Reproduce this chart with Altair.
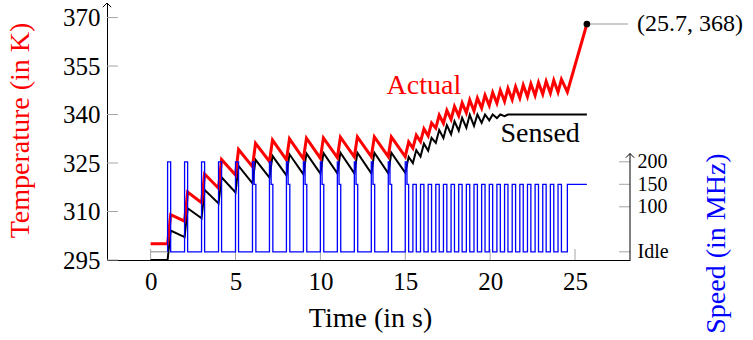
import altair as alt
import pandas as pd

FONT = "Liberation Serif"

# Actual die temperature (K) over time (s)
actual_t = [0.0, 1.0, 1.18, 2.0, 2.18, 3.0, 3.18, 4.0, 4.18, 5.0, 5.18, 6.0, 6.18, 7.0, 7.18,
            8.0, 8.18, 9.0, 9.18, 10.0, 10.18, 11.0, 11.18, 12.0, 12.18, 13.0, 13.18, 14.0, 14.18,
            15.0, 15.2, 15.45, 15.65, 15.9, 16.1, 16.35, 16.55, 16.8, 17.0, 17.25, 17.45, 17.7,
            17.9, 18.15, 18.35, 18.6, 18.8, 19.05, 19.25, 19.5, 19.7, 19.95, 20.15, 20.4, 20.6,
            20.85, 21.05, 21.3, 21.5, 21.75, 21.95, 22.2, 22.4, 22.65, 22.85, 23.1, 23.3, 23.55,
            23.75, 24.0, 24.2, 24.55, 25.7]
actual_k = [300.0, 300.0, 309.0, 307.0, 316.0, 312.7, 321.6, 317.2, 326.1, 321.3, 329.2, 323.9,
            331.1, 325.5, 332.1, 326.0, 332.5, 326.3, 332.7, 326.5, 332.8, 326.7, 333.0, 326.9,
            333.1, 327.0, 333.1, 327.0, 333.1, 327.0, 331.5, 329.6, 333.6, 331.6, 335.6, 333.4,
            337.4, 335.8, 339.8, 337.3, 341.3, 338.5, 342.5, 339.6, 343.6, 340.5, 344.5, 341.1,
            345.1, 342.0, 346.0, 342.8, 346.8, 343.5, 347.5, 344.1, 348.1, 344.6, 348.6, 345.1,
            349.1, 345.5, 349.5, 345.9, 349.9, 346.3, 350.3, 346.6, 350.6, 346.9, 350.9, 347.0,
            368.0]

# Sensor reading (K), saturating at 340
sensed_t = [0.0, 1.0, 1.18, 2.0, 2.18, 3.0, 3.18, 4.0, 4.18, 5.0, 5.18, 6.0, 6.18, 7.0, 7.18,
            8.0, 8.18, 9.0, 9.18, 10.0, 10.18, 11.0, 11.18, 12.0, 12.18, 13.0, 13.18, 14.0, 14.18,
            15.0, 15.2, 15.45, 15.65, 15.9, 16.1, 16.35, 16.55, 16.8, 17.0, 17.25, 17.45, 17.7,
            17.9, 18.15, 18.35, 18.6, 18.8, 19.05, 19.25, 19.5, 19.7, 19.95, 20.15, 20.4, 20.6,
            20.85, 21.05, 21.3, 25.7]
sensed_k = [295.0, 295.0, 304.1, 302.1, 311.0, 307.9, 316.7, 312.5, 320.6, 315.9, 324.1, 318.7,
            326.0, 320.5, 327.2, 321.2, 327.7, 321.5, 328.0, 321.7, 328.1, 321.8, 328.2, 321.8,
            328.2, 321.8, 328.2, 321.8, 328.2, 322.0, 326.9, 325.0, 329.0, 327.0, 331.0, 328.8,
            332.8, 331.2, 335.2, 332.7, 336.7, 333.9, 337.9, 335.0, 339.0, 335.9, 339.9, 336.5,
            340.0, 337.4, 340.0, 338.2, 340.0, 338.9, 340.0, 339.5, 340.0, 340.0, 340.0]

# Clock speed (MHz) at each change point; 0 means idle
speed_t = [1.0, 1.0, 1.18, 2.0, 2.18, 3.0, 3.18, 4.0, 4.18, 5.0, 5.18,
           6.0, 6.1, 6.2, 7.0, 7.1, 7.2, 8.0, 8.1, 8.2, 9.0, 9.1, 9.2, 10.0, 10.1, 10.2,
           11.0, 11.1, 11.2, 12.0, 12.1, 12.2, 13.0, 13.1, 13.2, 14.0, 14.1, 14.2, 15.0, 15.1, 15.2,
           15.45, 15.65, 15.9, 16.1, 16.35, 16.55, 16.8, 17.0, 17.25, 17.45, 17.7, 17.9, 18.15,
           18.35, 18.6, 18.8, 19.05, 19.25, 19.5, 19.7, 19.95, 20.15, 20.4, 20.6, 20.85, 21.05,
           21.3, 21.5, 21.75, 21.95, 22.2, 22.4, 22.65, 22.85, 23.1, 23.3, 23.55, 23.75, 24.0,
           24.2, 24.55, 25.7]
speed_mhz = [0, 200, 0, 200, 0, 200, 0, 200, 0, 200, 0,
             200, 150, 0, 200, 150, 0, 200, 150, 0, 200, 150, 0, 200, 150, 0,
             200, 150, 0, 200, 150, 0, 200, 150, 0, 200, 150, 0, 200, 150, 0,
             150, 0, 150, 0, 150, 0, 150, 0, 150, 0, 150, 0, 150,
             0, 150, 0, 150, 0, 150, 0, 150, 0, 150, 0, 150, 0,
             150, 0, 150, 0, 150, 0, 150, 0, 150, 0, 150, 0, 150,
             0, 150, 150]
# Idle period before the workload starts
pre_t = [0.0, 1.0]
pre_mhz = [0, 0]

temp_ticks = [295, 310, 325, 340, 355, 370]
time_ticks = [0, 5, 10, 15, 20, 25]
speed_ticks = [0, 100, 150, 200]

end_point = {"t": 25.7, "k": 368.0, "label": "(25.7, 368)"}

W, H = 523, 257
X_DOM = [-2.57, 28.24]
T_DOM = [295.0, 374.5]
S_DOM = [-18.2, 552.9]
S_AXIS_TOP = 218.4
TICK_GRAY = "#a6a6a6"

x_scale = alt.Scale(domain=X_DOM, nice=False, zero=False)
t_scale = alt.Scale(domain=T_DOM, nice=False, zero=False)
s_scale = alt.Scale(domain=S_DOM, nice=False, zero=False)

x_axis = alt.Axis(values=time_ticks, title="Time (in s)", grid=False, ticks=False,
                  domainColor="black", domainWidth=1, labelFont=FONT, labelFontSize=25,
                  labelColor="black", labelPadding=9, labelFlush=False, labelOverlap=False,
                  titleFont=FONT, titleFontSize=28, titleFontWeight="normal", titleColor="black",
                  titleX=263, titleY=58, titleBaseline="middle", titleAlign="center")
t_axis = alt.Axis(values=temp_ticks, title="Temperature (in K)", grid=False, ticks=False,
                  domainColor="black", domainWidth=1, labelFont=FONT, labelFontSize=25,
                  labelColor="black", labelPadding=7, labelFlush=False, labelOverlap=False,
                  titleFont=FONT, titleFontSize=28, titleFontWeight="normal", titleColor="red",
                  titleAngle=270, titleX=-87, titleY=127, titleBaseline="middle", titleAlign="center")
s_axis = alt.Axis(values=speed_ticks, title="Speed (in MHz)", orient="right", grid=False,
                  ticks=False, domain=False, labelFont=FONT, labelFontSize=20,
                  labelColor="black", labelPadding=7, labelFlush=False, labelOverlap=False,
                  labelExpr="datum.value == 0 ? 'Idle' : datum.label",
                  titleFont=FONT, titleFontSize=28, titleFontWeight="normal", titleColor="blue",
                  titleAngle=270, titleX=86, titleY=240, titleBaseline="middle", titleAlign="center")

X = lambda f: alt.X(f, type="quantitative", scale=x_scale, axis=x_axis)
YT = lambda f: alt.Y(f, type="quantitative", scale=t_scale, axis=t_axis)
YS = lambda f: alt.Y(f, type="quantitative", scale=s_scale, axis=s_axis)

actual_df = pd.DataFrame({"t": actual_t, "k": actual_k, "i": range(len(actual_t))})
sensed_df = pd.DataFrame({"t": sensed_t, "k": sensed_k, "i": range(len(sensed_t))})
speed_df = pd.DataFrame({"t": speed_t, "s": speed_mhz, "i": range(len(speed_t))})
pre_df = pd.DataFrame({"t": pre_t, "s": pre_mhz, "i": range(len(pre_t))})

# --- temperature layers (left axis) ---
left_ticks = alt.Chart(pd.DataFrame({"v": temp_ticks})).mark_rule(
    color=TICK_GRAY, strokeWidth=1).encode(y=YT("v"), x=alt.value(0), x2=alt.value(11))
bottom_ticks = alt.Chart(pd.DataFrame({"v": time_ticks})).mark_rule(
    color=TICK_GRAY, strokeWidth=1).encode(x=X("v"), y=alt.value(H), y2=alt.value(H - 11))
left_arrow = alt.Chart(pd.DataFrame({"t": [X_DOM[0]], "k": [T_DOM[1]]})).mark_point(
    shape="M-1,1L0,0L1,1", size=70, filled=False, color="black", strokeWidth=1, opacity=1
).encode(x=X("t"), y=YT("k"))

sensed_line = alt.Chart(sensed_df).mark_line(color="black", strokeWidth=2).encode(
    x=X("t"), y=YT("k"), order="i:Q")
actual_line = alt.Chart(actual_df).mark_line(color="red", strokeWidth=3).encode(
    x=X("t"), y=YT("k"), order="i:Q")

end_df = pd.DataFrame([end_point])
leader = alt.Chart(end_df).mark_rule(color="#999999", strokeWidth=1).encode(
    x=X("t"), x2=alt.value(521), y=YT("k"))
end_dot = alt.Chart(end_df).mark_circle(color="black", size=45, opacity=1).encode(
    x=X("t"), y=YT("k"))
end_label = alt.Chart(end_df).mark_text(font=FONT, fontSize=24, align="left",
                                        baseline="middle", dx=50, color="black").encode(
    x=X("t"), y=YT("k"), text="label:N")

series_labels = pd.DataFrame({"t": [16.1, 22.95], "k": [348.8, 334.0],
                              "name": ["Actual", "Sensed"], "c": ["red", "black"]})
name_text = alt.Chart(series_labels).mark_text(font=FONT, fontSize=28, align="center",
                                               baseline="middle").encode(
    x=X("t"), y=YT("k"), text="name:N", color=alt.Color("c:N", scale=None))

temp_layer = alt.layer(left_ticks, bottom_ticks, left_arrow, sensed_line, actual_line,
                       leader, end_dot, end_label, name_text)

# --- speed layers (right axis) ---
right_ticks = alt.Chart(pd.DataFrame({"v": speed_ticks})).mark_rule(
    color=TICK_GRAY, strokeWidth=1).encode(y=YS("v"), x=alt.value(W - 11), x2=alt.value(W))
right_line = alt.Chart(pd.DataFrame({"a": [S_DOM[0]], "b": [S_AXIS_TOP]})).mark_rule(
    color="black", strokeWidth=1).encode(y=YS("a"), y2="b:Q", x=alt.value(W))
right_arrow = alt.Chart(pd.DataFrame({"t": [X_DOM[1]], "s": [S_AXIS_TOP]})).mark_point(
    shape="M-1,1L0,0L1,1", size=70, filled=False, color="black", strokeWidth=1, opacity=1
).encode(x=X("t"), y=YS("s"))
pre_line = alt.Chart(pre_df).mark_line(color="#999999", strokeWidth=1.2).encode(
    x=X("t"), y=YS("s"), order="i:Q")
speed_line = alt.Chart(speed_df).mark_line(color="blue", strokeWidth=1.3,
                                           interpolate="step-after").encode(
    x=X("t"), y=YS("s"), order="i:Q")

speed_layer = alt.layer(right_ticks, right_line, right_arrow, pre_line, speed_line)

chart = alt.layer(temp_layer, speed_layer).resolve_scale(y="independent").properties(
    width=W, height=H, autosize="none",
    padding={"left": 107, "top": 3, "right": 123, "bottom": 80},
    background="white",
).configure_view(stroke=None)

chart.save("out.html", embed_options={"renderer": "svg", "actions": False})
